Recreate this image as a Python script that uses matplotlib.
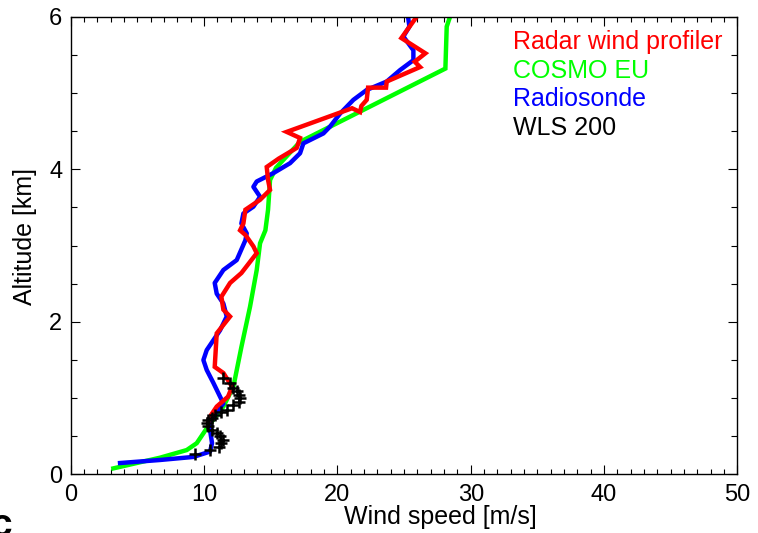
import matplotlib.pyplot as plt
import numpy as np

plt.rcParams['font.family'] = ['Liberation Sans', 'DejaVu Sans']

# Radar wind profiler (wind speed m/s, altitude km)
radar_ws = [25.95, 24.8, 26.6, 25.8, 26.2, 23.7, 23.65, 22.3, 22.2, 21.8, 21.7, 21.1,
            16.2, 17.2, 16.95, 15.6, 14.7, 14.8, 14.95, 14.2, 13.1, 12.95, 12.7, 13.1,
            13.7, 13.95, 12.8, 11.95, 11.3, 11.45, 11.95, 10.95, 10.8, 11.45, 12.1,
            11.8, 10.95, 10.45, 10.3]
radar_alt = [6.0, 5.72, 5.52, 5.41, 5.34, 5.15, 5.07, 5.07, 4.91, 4.83, 4.75, 4.8,
             4.49, 4.41, 4.28, 4.14, 4.03, 3.86, 3.73, 3.6, 3.47, 3.29, 3.2, 3.14,
             2.99, 2.9, 2.64, 2.51, 2.33, 2.16, 2.07, 1.85, 1.41, 1.33, 1.15,
             1.02, 0.89, 0.76, 0.68]

# COSMO EU
cosmo_ws = [28.45, 28.2, 28.1, 17.2, 15.4, 14.95, 14.8, 14.6, 14.2, 13.95, 13.45,
            12.8, 12.2, 11.45, 10.3, 9.45, 8.7, 6.7, 3.2]
cosmo_alt = [6.0, 5.87, 5.32, 4.36, 4.02, 3.86, 3.47, 3.2, 3.03, 2.68, 2.2,
             1.67, 1.15, 0.89, 0.63, 0.41, 0.32, 0.22, 0.08]

# Radiosonde
sonde_ws = [25.3, 25.4, 24.95, 25.7, 25.7, 24.7, 23.7, 22.2, 21.2, 20.2, 19.45, 18.95,
            17.45, 17.2, 16.45, 15.2, 13.95, 13.7, 14.2, 13.7, 12.95, 12.8, 13.2, 13.1,
            12.45, 11.45, 10.8, 10.95, 11.45, 11.7, 11.2, 10.7, 10.2, 9.95, 10.2, 10.7,
            11.2, 11.45, 10.95, 10.45, 10.45, 10.6, 10.45, 9.2, 6.7, 3.7]
sonde_alt = [6.0, 5.87, 5.74, 5.56, 5.43, 5.3, 5.15, 5.04, 4.91, 4.73, 4.56, 4.47,
             4.34, 4.21, 4.08, 3.95, 3.84, 3.77, 3.64, 3.51, 3.42, 3.29, 3.16, 3.07,
             2.81, 2.68, 2.51, 2.37, 2.24, 2.07, 1.89, 1.76, 1.63, 1.5, 1.37, 1.2,
             1.02, 0.93, 0.82, 0.71, 0.58, 0.41, 0.30, 0.23, 0.19, 0.15]

# WLS 200 lidar
wls_ws = [11.45, 11.95, 12.2, 12.45, 12.65, 12.7, 12.6, 12.2, 11.7, 11.3, 10.8, 10.6,
          10.3, 10.2, 10.3, 10.6, 10.95, 11.2, 11.45, 11.3, 11.1, 10.45, 9.3]
wls_alt = [1.26, 1.20, 1.13, 1.09, 1.04, 1.0, 0.95, 0.91, 0.85, 0.82, 0.78, 0.74,
           0.71, 0.67, 0.63, 0.58, 0.54, 0.50, 0.45, 0.41, 0.36, 0.32, 0.27]

fig = plt.figure(figsize=(7.58, 5.33), dpi=100)
ax = fig.add_axes([0.0933, 0.1098, 0.8795, 0.8589])

ax.plot(cosmo_ws, cosmo_alt, color=(0, 1, 0), lw=3.2, solid_joinstyle='miter')
ax.plot(sonde_ws, sonde_alt, color=(0, 0, 1), lw=3.2)
ax.plot(radar_ws, radar_alt, color=(1, 0, 0), lw=3.2, solid_joinstyle='miter')
ax.plot(wls_ws, wls_alt, ls='none', marker='+', color='black', ms=8, mew=1.8)

ax.set_xlim(0, 50)
ax.set_ylim(0, 6)
ax.set_xticks(np.arange(0, 51, 10))
ax.set_xticks(np.arange(0, 51, 1), minor=True)
ax.set_yticks(np.arange(0, 7, 2))
ax.set_yticks(np.arange(0, 6.01, 0.5), minor=True)
ax.tick_params(axis='both', which='both', direction='in', top=True, right=True,
               labelsize=17, width=0.8)
ax.tick_params(axis='x', which='major', length=6.5, pad=7)
ax.tick_params(axis='x', which='minor', length=3.5)
ax.tick_params(axis='y', which='major', length=6.5, pad=6)
ax.tick_params(axis='y', which='minor', length=4)
for s in ax.spines.values():
    s.set_linewidth(1.0)

ax.set_xlabel("Wind speed [m/s]", fontsize=18, labelpad=0)
ax.xaxis.set_label_coords(0.555, -0.066)
ax.xaxis.label.set_va('top')
ax.set_ylabel("Altitude [km]", fontsize=18, labelpad=4)
ax.yaxis.set_label_coords(-0.0505, 0.519)

# text-only legend
labels = ["Radar wind profiler", "COSMO EU", "Radiosonde", "WLS 200"]
colors = [(1, 0, 0), (0, 1, 0), (0, 0, 1), 'black']
for i, (lab, c) in enumerate(zip(labels, colors)):
    ax.text(0.663, 0.9295 - i * 0.0627, lab, color=c, fontsize=18,
            transform=ax.transAxes, va='baseline', ha='left')

# cropped panel letter at the bottom-left corner
fig.text(-0.012, -0.02, "c", fontsize=28, fontweight='bold', ha='left', va='bottom')

fig.savefig("out.png", dpi=100)
